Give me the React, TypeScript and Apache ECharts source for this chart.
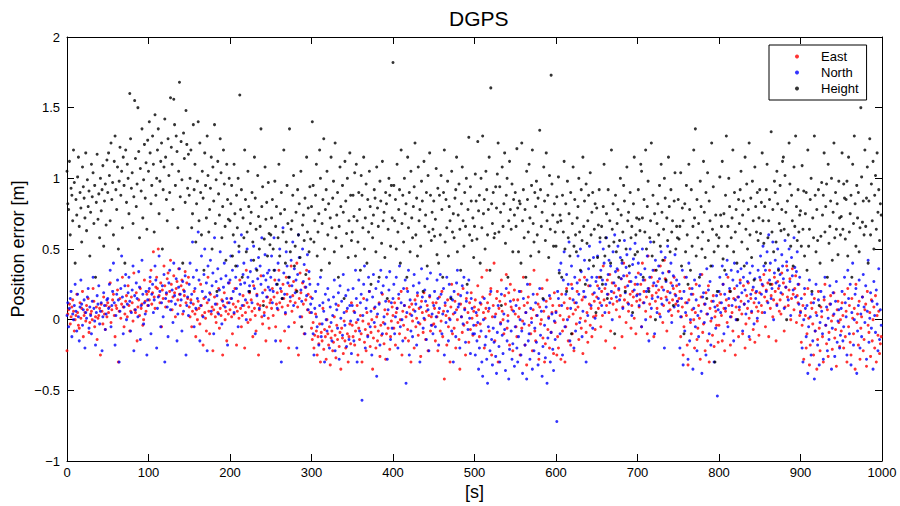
import React, { useEffect, useRef } from "react";
import * as echarts from "echarts";

// Position errors in hundredths of a metre, one sample per second (t = index)
const eastCm: number[] = [
  -22, 4, 7, 11, -3, 2, 9, 14, 6, -8, 0, 3, 18, 5, -4, -6, 12, 1, 8, 20, -12, 3, 5, -1, 10,
  7, 15, -9, -2, 4, 6, 0, 22, 13, -5, 2, 9, -14, 1, 3, 8, -25, 11, 6, -3, 16, 4, -7, 10, 2,
  12, 5, 9, 26, -2, 7, 14, 18, 3, -12, 10, 8, 21, -30, 6, 15, 1, 11, 30, 9, -5, 4, 13, 17, 2,
  24, 10, -8, 6, 16, 12, -1, 33, 7, 5, 19, -15, 9, 14, 3, 22, 8, 11, -4, 0, 28, 13, 6, 18, 10,
  20, 14, 27, 35, 11, 19, 48, 16, 8, 23, 30, 22, 50, 17, 12, 26, -5, 21, 15, 38, 24, 9, 18, 29, 33,
  13, 20, 42, 25, 7, 16, 31, 19, 2, 22, 27, 14, 36, 18, 10, 24, 28, 4, 21, 17, 34, 12, 26, 15, 30,
  9, 2, 14, -5, 6, 11, 20, 4, -12, 7, 0, 13, 8, -3, 25, 10, 3, -18, 15, 5, 1, -8, 12, 30, 6,
  -10, 18, 4, 9, -22, 7, 16, 2, -2, 11, 5, 22, -6, 8, 3, 14, -25, 10, 19, 0, 6, -15, 12, 4, 26,
  7, 15, 2, -10, 11, 4, 22, 9, -18, 6, 13, 1, 28, 8, -5, 3, 17, 10, -20, 5, 35, 12, -2, 9, 19,
  0, 14, 6, -12, 24, 8, 3, -8, 18, 11, -25, 7, 10, 31, 2, -3, 13, 5, 21, -15, 9, 16, 1, -6, 12,
  14, 8, 22, 3, 16, 28, -5, 11, 19, 7, 35, 12, -15, 20, 9, 25, 15, -8, 4, 30, 18, 10, -20, 24, 13,
  38, 6, 17, 27, -2, 12, 21, 40, 9, -25, 15, 33, 19, 2, 26, 11, -10, 23, 14, 35, 7, 18, 29, 5, 16,
  -6, -14, -2, -20, -11, 4, -8, -25, -12, -17, -3, -30, -9, -15, 8, -21, -7, -12, -28, 0, -10, -18, -5, -32, -13,
  -8, -22, -16, 2, -11, -27, -4, -14, 10, -19, -9, -35, -6, -13, -24, -1, -15, -20, 6, -10, -30, -12, -3, -17, 12,
  -4, -12, 6, -18, -8, -2, 10, -25, -6, -14, 3, -10, -30, -1, 15, -16, -7, -22, 5, -11, -3, 20, -19, -9, 0,
  -35, -13, 8, -5, -20, 2, -15, -8, 12, -26, -4, -11, 18, -2, -17, 7, -28, -10, 4, -6, 13, -21, -12, -1, 9,
  3, -6, 12, -18, 5, 8, -2, 15, -10, 0, 20, -25, 6, -4, 10, -13, 2, 22, -7, -15, 9, 4, -30, 11, -1,
  7, -20, 14, -5, 1, 17, -11, 8, -3, -26, 13, 5, -9, 19, 0, -14, 6, 10, -22, 3, 16, -8, 2, -4, 12,
  -3, 8, -15, 12, 2, -22, 5, 16, -8, -1, 20, -12, 6, -42, 10, 3, -18, 14, -5, 1, -30, 9, 25, -10, 4,
  -6, 13, -20, 7, 0, 18, -14, -35, 11, 2, -9, 22, -4, 8, -25, 15, -2, 5, -16, 12, -7, 19, 1, -11, 6,
  9, 14, -4, 3, 24, 7, -12, -3, 11, 30, 16, 5, -20, 1, 8, 35, 12, 6, -8, 18, 22, -25, 2, 10, 40,
  -15, 4, 15, 20, -30, 8, 13, -2, 28, 6, 0, -10, 17, 11, 32, -6, 3, 19, -18, 25, 9, 7, -22, 14, 21,
  4, -5, -12, 14, 2, 8, -25, 20, -6, -1, 30, 10, -18, 5, -32, 12, 16, -4, 25, -10, 1, -22, 7, 35, -8,
  -15, 3, 18, 11, -28, 9, -3, 0, 22, -13, 6, -30, -17, 13, 28, -7, 2, -20, 15, -9, 5, 10, -24, 19, -2,
  6, -25, -12, -20, 10, 3, -28, 18, -8, 0, 12, -30, -5, 22, 8, -15, 2, 15, -18, 25, -10, 4, -22, 12, 7,
  -3, 20, 9, -14, 28, 1, -6, 14, -24, 16, 30, -1, -9, 5, -16, 24, 11, -4, 8, -12, 18, 2, 13, -7, 3,
  16, 24, 8, 30, 12, -5, 20, 3, 38, 14, 22, -15, 10, 28, 18, 5, 32, -8, 15, 26, 11, 19, -20, 24, 7,
  13, 35, 21, 2, 17, 29, -12, 9, 40, 14, 23, -2, 31, 12, 6, 27, 18, -6, 10, 20, 16, 1, 25, -10, 13,
  18, 33, 9, 14, 25, -5, 40, 12, 20, 28, 6, 16, -10, 45, 22, 11, 2, 30, 17, 24, -12, 35, 13, 19, 8,
  27, 21, 4, 38, 15, 23, -2, 10, 42, 29, 16, -8, 20, 34, 12, 7, 26, 3, 14, 22, 30, 18, 11, 24, 13,
  6, 15, 20, -12, 2, 9, -25, -5, 30, 12, 3, -18, -32, 14, 22, -2, -10, 7, 18, 0, -20, 5, 25, -14, -6,
  10, 1, -28, 16, 32, -9, -3, 11, -22, 19, 4, -15, 24, -30, 8, -1, 13, -11, 17, -19, 2, 6, -4, 10, -16,
  -4, 12, 18, 3, -15, 25, 8, -22, 6, 14, -2, 30, 10, 20, -18, 2, 5, -8, 15, 22, -25, 9, 0, 16, -12,
  7, 28, 13, 4, -10, 24, 11, -20, -3, 17, 8, 26, 1, -14, 15, 5, 21, -7, 12, -16, 19, 9, -1, 6, -11,
  19, 28, 10, 5, 24, 32, 16, -5, 21, 13, 26, -12, 35, 8, 17, 25, 2, 14, 30, 20, -15, 11, 27, 22, 6,
  14, 4, 33, 18, 26, -8, 9, 23, 38, 16, 10, 21, 29, 0, 15, 36, 18, 7, 22, 31, -2, 17, 12, 25, 3,
  6, -16, -4, 10, -28, 18, 3, -20, -10, 22, 1, -32, -18, 12, 8, -3, -25, 15, -8, 5, -35, -14, 20, -6, -22,
  9, 2, -12, -30, 14, 25, -4, -17, 7, -26, -9, 11, 17, -1, -21, 3, 19, -13, -7, -33, 7, 13, -2, -19, 0,
  -8, 12, 3, -20, 18, -12, 6, -30, 22, -5, 10, -16, -25, 15, 1, -10, 8, -35, 25, -2, 4, -18, 13, -28, -6,
  2, 16, -22, -14, 7, 11, -33, 20, -4, -9, 5, -26, 14, -15, 0, 9, -20, 17, -30, 3, -11, 6, -24, -17, -12,
];

const northCm: number[] = [
  3, 12, -5, 8, 15, 20, -12, 4, 0, 10, 25, 6, -8, 18, 2, -15, 9, 28, 11, -4, 7, 14, -20, 5, 1,
  16, 22, -6, 9, 3, -10, 13, 30, 8, -1, -18, 5, 17, 11, 24, -3, 6, 12, -22, 2, 19, 10, -7, 4, 14,
  15, 8, 25, 35, -5, 10, 20, 40, 12, -18, 3, 18, 28, 14, -30, 6, 22, 45, 16, -10, 9, 24, 32, 0, 11,
  19, 30, 13, -8, 5, 21, 38, -22, 17, 7, 26, 15, 2, 34, 23, -14, 10, 42, 18, -3, 12, 4, 20, -25, 14,
  10, 22, 30, -10, 18, 25, 5, 14, 38, 28, -20, 8, 16, 45, 20, -5, 12, 24, 2, 32, -30, 15, 19, 9, -12,
  26, 35, 7, 13, 21, -2, 40, 17, 11, 29, -15, 4, 23, 36, 18, 14, -8, 27, 6, 20, 31, -25, 10, 16, 3,
  25, 40, 12, 18, 55, 30, -5, 22, 8, 35, 15, 62, 28, -15, 10, 45, 20, 2, 32, 50, 16, 26, -22, 38, 14,
  19, 42, 6, 24, 33, -10, 58, 11, 27, 17, 36, 4, 21, 48, 29, -3, 13, 23, 40, 9, 31, 15, -18, 26, 12,
  28, 45, 15, 35, 20, 5, 55, 30, 22, 38, -5, 48, 18, 25, 60, 10, 32, 40, 26, 14, 0, 50, 30, 20, 24,
  34, 42, 12, 27, 52, 22, -10, 36, 17, 29, 44, 8, 38, 25, 58, 19, 31, 3, 46, 28, 16, 33, 23, 35, 21,
  30, 45, 12, 20, 58, 35, -15, 25, 8, 40, 28, 50, 22, -30, 15, 65, 33, 18, 5, 48, 38, 26, -5, 30, 16,
  42, 24, 55, 10, 36, 19, 28, -20, 32, 60, 44, 2, 21, 13, 50, 27, 39, -10, 23, 17, 46, 7, 34, 25, 11,
  5, 15, -10, -25, 8, 20, 2, -5, 25, -18, 10, 30, -12, -3, 12, 6, -30, 18, 0, -8, 22, 14, -20, 9, -2,
  -15, 3, 16, 28, -22, 11, 7, -6, 19, -28, 24, 1, 13, -11, 32, 5, -4, 17, -19, 8, 21, -14, 10, -1, -24,
  10, 22, -15, 5, 35, 15, -30, 0, 28, -8, 12, 18, -57, 3, 25, 38, -20, 8, 14, -12, 30, 20, -5, 6, -25,
  16, 32, -2, 9, 22, -40, 4, 27, 11, -18, 35, 19, -10, 24, 2, -3, 13, 30, -28, 7, 21, 34, -14, 12, -6,
  15, 25, -10, 2, 30, 8, -20, 18, 38, -5, 12, 0, -15, 22, 10, 28, -45, 5, 20, 35, -25, 14, -8, 3, -12,
  24, 32, 6, 11, -18, 19, -2, 26, -30, 9, 36, 16, -6, 1, 21, 13, -14, 29, 7, -22, 17, 33, -4, 4, -10,
  10, 20, -5, 2, 28, 15, -18, 8, 32, 18, -10, 4, 22, -25, 12, -2, 30, 6, -15, 25, 0, 16, -8, 14, -30,
  20, 5, -12, 26, 35, 9, 11, -20, 17, 2, 24, -3, 30, 7, -16, 13, 19, -7, 28, 1, -24, 15, 8, -10, -4,
  -10, -25, 5, -15, -2, -35, -20, 12, -8, -30, -40, 0, 15, -18, -12, -28, -45, -5, 8, -22, 20, -14, -32, -6, -16,
  2, -26, -38, -9, 10, -19, -30, -3, 18, -11, -24, 4, -7, -36, 22, -15, -1, -42, -21, 13, -8, -28, -17, 6, -33,
  -5, 10, -20, -30, -12, 20, 0, -25, -8, -38, 15, -3, -18, 5, -42, 25, -15, -10, -28, 8, -2, -35, 18, -22, -6,
  12, -16, 3, -32, -24, 22, -11, 6, -40, -19, 14, -4, -27, 9, -45, -13, 1, 17, -30, -9, 4, -21, -36, -1, -14,
  5, -72, 20, 15, 35, -10, 40, 10, -25, 28, 48, -5, 18, 32, 0, 25, 55, -15, 8, 38, 22, 14, -20, 30, -8,
  12, 26, 45, 18, -2, 50, 34, -12, 6, 20, 42, 16, -30, 28, 3, 36, 52, 24, 10, 30, -6, 44, 19, 1, 27,
  30, 45, 15, 22, 55, 35, 10, 28, 50, 40, 5, 25, 58, 18, 32, 42, 12, 38, 20, 0, 48, 26, 60, 34, 16,
  36, 52, 22, 14, 44, 29, 40, 8, 31, 56, 19, 37, 46, 24, 11, 33, 50, 27, 3, 39, 43, 21, 54, 30, 17,
  25, 40, 10, 18, 32, -5, 50, 28, 12, 36, 0, 20, 45, 22, -15, 30, 55, 8, 15, 35, 26, -10, 42, 24, 5,
  16, 38, 29, 2, 48, 11, 33, 21, -20, 44, 27, 14, 52, 6, 34, 19, 40, -2, 24, 31, 9, 46, 17, 28, 13,
  10, 25, -20, 2, 15, 35, -32, 20, -8, 5, 30, 12, -28, 40, -15, 0, 18, 22, -35, 8, 28, -5, 14, -22, 3,
  -12, 24, 32, 6, -38, 16, 19, -2, 11, -25, 36, 4, 21, -10, 27, -18, 1, 38, 13, -30, 9, -6, 17, -54, 7,
  20, 30, 5, 12, 38, 25, -10, 18, 8, 32, 42, -5, 15, 22, 2, 35, 10, 28, -15, 40, 14, 0, 24, 34, 16,
  9, 26, 36, 19, -8, 30, 11, 21, 4, 40, 27, 13, -12, 33, 18, 6, 38, 23, -3, 29, 15, 20, 1, 35, 12,
  30, 45, 18, 25, 52, 38, 5, 35, 20, 48, 12, 60, 28, 40, 15, 22, 55, 0, 33, 42, 26, 10, 50, 36, 24,
  32, 19, 46, 38, 29, 8, 56, 23, 41, 35, 14, 50, 27, 3, 44, 31, 21, 58, 37, 16, 34, 48, 25, 11, 30,
  5, 15, -20, -30, 0, 22, 8, -12, 10, -38, -5, 28, 2, -25, 18, -15, 12, -42, -8, 25, 3, -18, 14, -32, -2,
  20, 6, -10, -28, 16, 30, -4, 9, -22, 1, -14, 24, 11, -35, -6, 19, 4, -26, 13, 27, -16, -1, 7, -20, -11,
  8, 20, -15, -5, 30, 12, 2, -25, 35, 15, -10, 25, -32, 5, 40, -18, 0, 18, 22, -38, -8, 10, 28, -20, 4,
  -12, 16, 32, 9, -2, 24, -28, 6, 42, -16, 1, 19, -6, 13, -35, 27, 3, -9, 21, 11, -22, 36, -14, 7, -4,
];

const heightCm: number[] = [
  105, 82, 78, 112, 60, 93, 88, 70, 120, 97, 40, 85, 74, 101, 115, 66, 90, 79, 55, 108, 94, 86, 72, 118, 63,
  99, 80, 91, 45, 76, 110, 87, 104, 68, 95, 30, 83, 117, 71, 89, 58, 100, 77, 92, 109, 52, 84, 96, 67, 113,
  90, 118, 102, 70, 125, 85, 97, 60, 112, 130, 92, 78, 108, 50, 98, 122, 88, 105, 65, 115, 95, 40, 120, 83, 110,
  100, 75, 160, 128, 93, 104, 68, 87, 155, 114, 80, 96, 150, 119, 58, 107, 91, 135, 72, 99, 124, 86, 111, 64, 127,
  105, 140, 118, 82, 95, 130, 110, 62, 145, 88, 100, 120, 135, 75, 98, 112, 125, 50, 92, 108, 142, 115, 85, 70, 128,
  102, 90, 157, 122, 110, 78, 156, 138, 95, 130, 119, 65, 105, 168, 87, 126, 99, 40, 132, 114, 83, 148, 124, 93, 117,
  88, 100, 120, 65, 75, 138, 92, 110, 55, 82, 98, 140, 70, 125, 90, 60, 105, 86, 35, 118, 95, 72, 130, 102, 62,
  78, 93, 115, 50, 108, 84, 138, 68, 99, 20, 112, 89, 74, 128, 104, 58, 80, 120, 96, 66, 42, 110, 85, 71, 100,
  70, 82, 95, 45, 60, 110, 75, 38, 88, 65, 100, 52, 159, 78, 92, 30, 72, 58, 120, 85, 48, 62, 105, 80, 20,
  68, 76, 90, 55, 42, 115, 86, 64, 35, 102, 73, 50, 66, 135, 80, 94, 10, 57, 108, 71, 83, 45, 97, 61, 53,
  60, 72, 85, 50, 35, 98, 66, 80, 25, 58, 110, 45, 75, 90, 15, 62, 120, 78, 40, 55, 95, 68, 30, 135, 48,
  64, 70, 88, 102, 38, 52, 76, 20, 92, 60, 82, 44, 105, -5, 67, 74, 56, 86, 32, 115, 62, 79, 48, 94, 57,
  80, 140, 95, 55, 70, 88, 110, 45, 62, 75, 120, 100, 35, 68, 85, 128, 50, 78, 92, 105, 60, 82, 40, 72, 115,
  65, 86, 98, 48, 125, 58, 74, 90, 30, 66, 108, 80, 52, 95, 76, 15, 112, 84, 61, 100, 44, 70, 118, 88, 56,
  62, 88, 73, 104, 45, 110, 70, 55, 90, 78, 35, 102, 88, 65, 115, 50, 72, 96, 40, 85, 62, 105, 80, 25, 68,
  58, 74, 92, 86, 48, 108, 79, 66, 30, 98, 84, 54, 112, 70, 76, 44, 90, 82, 15, 64, 100, 88, 52, 95, 72,
  182, 95, 70, 85, 50, 110, 62, 78, 92, 40, 120, 68, 88, 55, 100, 75, 82, 30, 115, 65, 90, 48, 105, 72, 58,
  80, 94, 125, 60, 86, 45, 108, 70, 78, 52, 98, 84, 20, 112, 66, 74, 90, 38, 102, 62, 118, 88, 56, 76, 64,
  84, 59, 71, 107, 46, 93, 40, 88, 60, 102, 78, 30, 90, 120, 55, 85, 65, 98, 45, 80, 70, 15, 105, 62, 75,
  58, 86, 92, 115, 48, 74, 96, 64, 35, 82, 108, 70, 52, 90, 66, 100, 25, 78, 129, 60, 94, 84, 56, 72, 44,
  66, 103, 84, 57, 126, 77, 88, 40, 100, 65, 130, 75, 85, 50, 105, 92, 60, 78, 115, 35, 164, 82, 68, 90, 58,
  61, 94, 79, 103, 125, 62, 94, 76, 10, 108, 66, 82, 118, 54, 88, 100, 30, 70, 112, 78, 64, 96, 48, 85, 74,
  90, 66, 121, 79, 48, 84, 82, 40, 125, 70, 92, 58, 78, 30, 105, 85, 62, 110, 72, 45, 95, 120, 68, 55, 90,
  80, 98, 60, 86, 48, 134, 92, 66, 76, 15, 108, 84, 56, 118, 70, 88, 44, 102, 64, 173, 96, 74, 52, 82, 62,
  52, 87, 69, 101, 33, 74, 70, 30, 88, 62, 112, 50, 82, 20, 98, 58, 75, 45, 90, -10, 68, 108, 52, 85, 60,
  48, 72, 80, 100, 62, 35, 92, 56, 115, 66, 84, 25, 96, 54, 70, 88, 42, 104, 60, 76, 90, 38, 64, 82, 5,
  79, 44, 67, 92, 58, 30, 66, 25, 80, 110, 45, 58, 75, 15, 92, 52, 70, 40, 120, 64, 82, 55, -10, 88, 48,
  68, 78, 30, 56, 100, 74, 42, 62, 95, 84, 20, 50, 108, 70, 76, 38, 90, 58, 66, 5, 82, 115, 46, 60, 72,
  48, 92, 71, 63, 110, 105, 72, 30, 85, 62, 120, 50, 80, 98, 20, 58, 70, 125, 45, 88, 55, 75, 0, 35, 68,
  82, 60, 95, 52, 110, 76, 42, 64, 100, 86, 28, 72, 56, 115, 80, 48, 92, 62, 70, 10, 84, 104, 50, 66, 58,
  85, 57, 66, 104, 38, 79, 70, -10, 82, 48, 95, 60, 25, 110, 78, 35, 92, 52, 66, 120, 72, 135, 45, 85, 58,
  68, 30, 98, 80, 50, 62, 112, 76, 44, 90, 15, 104, 56, 84, 70, 38, 125, 64, 94, 48, -30, 74, 60, 20, 52,
  58, 101, 74, 66, 112, 43, 75, 35, 88, 130, 52, 66, 100, 80, 20, 58, 72, 120, 48, 90, 62, 78, 40, 0, 85,
  68, 92, 105, 55, 74, 84, 38, 115, 64, 96, 50, 78, 125, 60, 86, 44, 98, 70, 28, 108, 80, 62, 90, 56, 72,
  92, 61, 83, 118, 70, 54, 80, 40, 92, 110, 58, 70, 85, 25, 133, 62, 78, 48, 98, 90, 55, 105, 82, 35, 68,
  95, 63, 78, 112, 115, 64, 102, 76, 0, 84, 60, 125, 96, 52, 88, 70, 38, 108, 66, 130, 80, 56, 92, 62, 74,
  77, 52, 109, 64, 91, 45, 75, 90, 35, 120, 52, 64, 85, 100, 20, 72, 58, 130, 88, 48, 78, 56, 92, 10, 40,
  59, 97, 74, 88, 118, 62, 80, 96, 30, 110, 54, 66, 84, 100, 42, 76, 125, 58, 90, 64, 82, 46, 98, 72, 60,
  73, 118, 64, 96, 86, 57, 85, 98, 45, 115, 62, 75, 88, 30, 110, 68, 130, 82, 52, 95, 72, 90, 48, 65, 150,
  101, 69, 84, 60, 120, 66, 86, 108, 40, 84, 128, 60, 96, 70, 112, 50, 88, 102, 64, 118, 76, 92, 56, 82, 74,
];

const seriesNames = ["East", "North", "Height"];
const seriesColors = ["#ff0000", "#0000ff", "#000000"];
const xTicks = { min: 0, max: 1000, interval: 100 };
const yTicks = { min: -1, max: 2, interval: 0.5 };

const FONT = "'Liberation Sans', Arial, Helvetica, sans-serif";

const toPoints = (vals: number[]) => vals.map((v, i) => [i, v / 100]);

const fmtY = (v: number) => String(Math.round(v * 10) / 10).replace("-", "\u2212");
const fmtX = (v: number) => String(Math.round(v));

export default function App() {
  const ref = useRef<HTMLDivElement>(null);
  useEffect(() => {
    if (!ref.current) return;
    const chart = echarts.init(ref.current, undefined, { renderer: "svg" });
    const axisLine = { show: true, onZero: false, lineStyle: { color: "#000", width: 1 } };
    const tick = { show: true, inside: true, length: 7, lineStyle: { color: "#000", width: 1 } };
    const allData = [eastCm, northCm, heightCm];
    chart.setOption({
      animation: false,
      backgroundColor: "#fff",
      textStyle: { fontFamily: FONT },
      title: {
        text: "DGPS",
        left: 444,
        top: 3,
        textStyle: { fontFamily: FONT, fontSize: 21, fontWeight: "normal", color: "#000" },
      },
      legend: {
        data: seriesNames,
        orient: "vertical",
        left: 769,
        top: 45,
        icon: "circle",
        itemWidth: 4,
        itemHeight: 4,
        itemGap: 3,
        padding: [5, 8, 5, 26],
        borderColor: "#000",
        borderWidth: 1,
        backgroundColor: "#fff",
        textStyle: { fontFamily: FONT, fontSize: 13, color: "#000", padding: [0, 0, 0, 17] },
      },
      grid: {
        left: 67,
        right: 18,
        top: 37,
        bottom: 45,
        containLabel: false,
        outerBoundsMode: "none",
      },
      xAxis: [
        {
          type: "value",
          ...xTicks,
          position: "bottom",
          name: "[s]",
          nameLocation: "middle",
          nameGap: 22,
          nameMoveOverlap: false,
          nameTextStyle: { fontFamily: FONT, fontSize: 18, color: "#000" },
          axisLine,
          axisTick: tick,
          axisLabel: { fontFamily: FONT, fontSize: 13, color: "#000", margin: 5, formatter: fmtX },
          splitLine: { show: false },
        },
        {
          type: "value",
          ...xTicks,
          position: "top",
          axisLine,
          axisTick: tick,
          axisLabel: { show: false },
          splitLine: { show: false },
        },
      ],
      yAxis: [
        {
          type: "value",
          ...yTicks,
          position: "left",
          name: "Position error [m]",
          nameLocation: "middle",
          nameGap: 40,
          nameMoveOverlap: false,
          nameRotate: 90,
          nameTextStyle: { fontFamily: FONT, fontSize: 18, color: "#000" },
          axisLine,
          axisTick: tick,
          axisLabel: { fontFamily: FONT, fontSize: 13, color: "#000", margin: 7, formatter: fmtY },
          splitLine: { show: false },
        },
        {
          type: "value",
          ...yTicks,
          position: "right",
          axisLine,
          axisTick: tick,
          axisLabel: { show: false },
          splitLine: { show: false },
        },
      ],
      series: seriesNames.map((name, k) => ({
        name,
        type: "scatter",
        xAxisIndex: 0,
        yAxisIndex: 0,
        symbol: "circle",
        symbolSize: 3,
        itemStyle: { color: seriesColors[k] },
        data: toPoints(allData[k]),
      })),
    });
    return () => chart.dispose();
  }, []);
  return (
    <div
      ref={ref}
      style={{ position: "fixed", left: 0, top: 0, width: 900, height: 506, background: "#fff" }}
    />
  );
}
